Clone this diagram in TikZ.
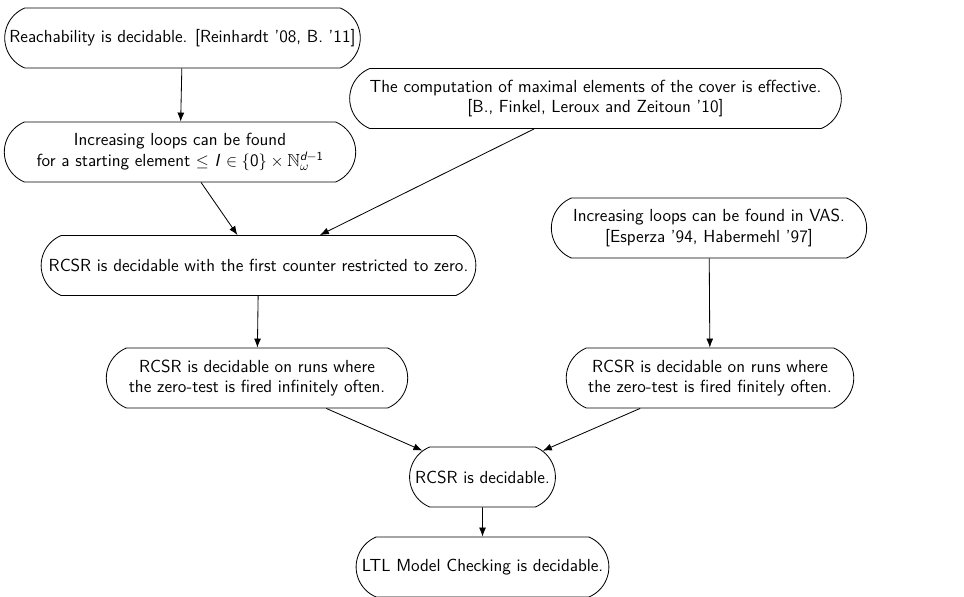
\documentclass[tikz,border=0pt]{standalone}
\usepackage{amsmath,amssymb}
\usetikzlibrary{shapes.misc,arrows.meta}
\tikzset{
  claim/.style={rounded rectangle, rounded rectangle arc length=135, draw, line width=0.6pt,
    minimum height=43.2pt, inner xsep=1pt, inner ysep=2pt, align=center,
    font=\sffamily\fontsize{12.6}{14.6}\selectfont},
  implies/.style={-{Latex[length=6.5pt,width=5pt]}, line width=0.6pt},
}
\begin{document}
\begin{tikzpicture}[x=0.72pt,y=-0.72pt]
\useasboundingbox (0,0) rectangle (964,596);
\node[claim, minimum width=258pt] (reach) at (182.5,38) {Reachability is decidable. [Reinhardt '08, B. '11]};
\node[claim, minimum width=255pt] (loopsI) at (180,152) {Increasing loops can be found\\for a starting element $\leq$ \textit{I} $\in \{\text{0}\} \times \mathbb{N}_\omega^{\text{\itshape d}-\text{1}}$};
\node[claim, minimum width=356pt] (cover) at (595.5,98.5) {The computation of maximal elements of the cover is effective.\\{}[B., Finkel, Leroux and Zeitoun '10]};
\node[claim, minimum width=315pt] (first) at (258.5,265.5) {RCSR is decidable with the first counter restricted to zero.};
\node[claim, minimum width=229pt] (vas) at (709,228) {Increasing loops can be found in VAS.\\{}[Esperza '94, Habermehl '97]};
\node[claim, minimum width=219pt] (inf) at (257,378) {RCSR is decidable on runs where\\the zero-test is fired infinitely often.};
\node[claim, minimum width=209pt] (fin) at (710,378) {RCSR is decidable on runs where\\the zero-test is fired finitely often.};
\node[claim, minimum width=107pt] (rcsr) at (482.5,477) {RCSR is decidable.};
\node[claim, minimum width=184pt] (ltl) at (482.5,567) {LTL Model Checking is decidable.};
\draw[implies] (reach) -- (loopsI);
\draw[implies] (loopsI) -- (first);
\draw[implies] (cover) -- (first);
\draw[implies] (vas) -- (fin);
\draw[implies] (first) -- (inf);
\draw[implies] (inf) -- (rcsr);
\draw[implies] (fin) -- (rcsr);
\draw[implies] (rcsr) -- (ltl);
\end{tikzpicture}
\end{document}
